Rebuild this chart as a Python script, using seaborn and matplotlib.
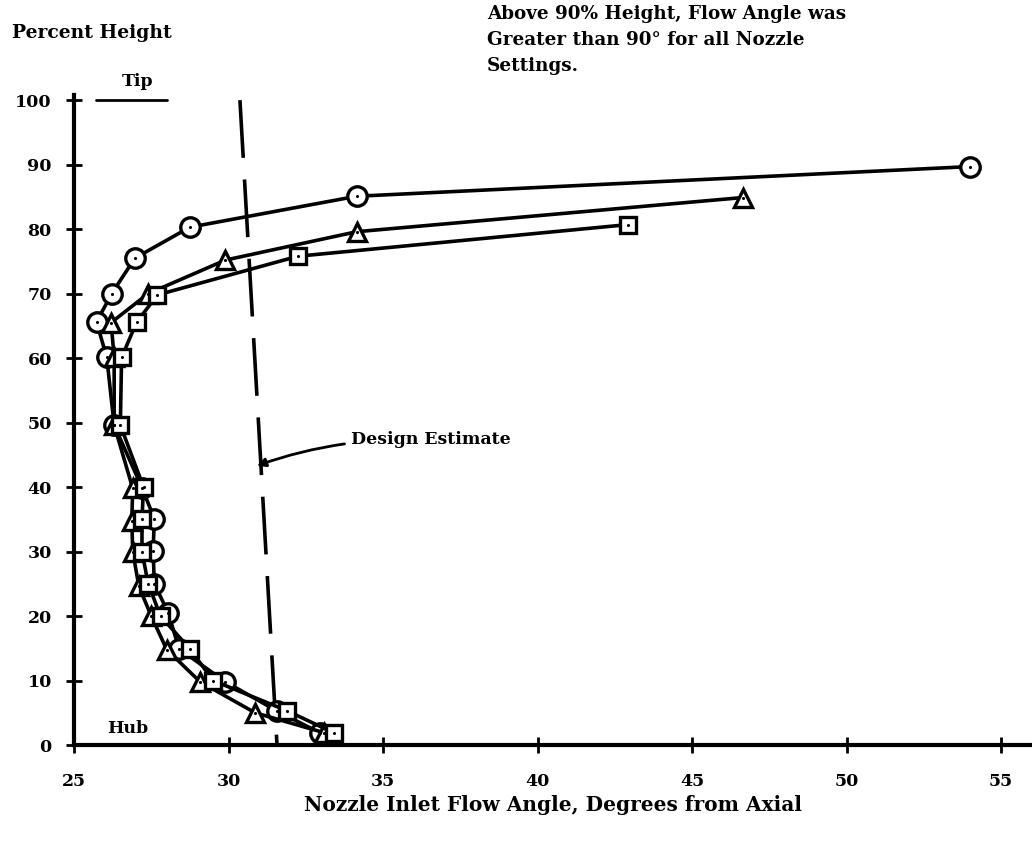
import numpy as np
import pandas as pd
import matplotlib
matplotlib.use("Agg")
import matplotlib.pyplot as plt
import seaborn as sns

# Values (angle in degrees, height in percent)
circle_angle = [54.0, 34.15, 28.75, 26.97, 26.22, 25.73, 26.06, 26.3, 27.2, 27.6, 27.56, 27.6, 28.05, 28.4, 29.9, 31.56, 32.95]
circle_height = [89.7, 85.1, 80.3, 75.5, 70.0, 65.6, 60.1, 49.6, 39.9, 35.1, 30.1, 25.0, 20.5, 14.9, 9.8, 5.3, 1.9]

tri_angle = [46.65, 34.15, 29.9, 27.4, 26.2, 26.3, 26.3, 26.9, 26.87, 26.9, 27.1, 27.5, 28.0, 29.08, 30.86, 33.1]
tri_height = [84.9, 79.6, 75.2, 70.0, 65.5, 60.1, 49.6, 39.8, 34.8, 30.0, 24.6, 20.0, 14.8, 9.8, 5.0, 1.9]

sq_angle = [42.93, 32.25, 27.7, 27.03, 26.54, 26.5, 27.25, 27.2, 27.2, 27.4, 27.8, 28.75, 29.5, 31.9, 33.4]
sq_height = [80.7, 75.8, 69.8, 65.6, 60.1, 49.6, 40.0, 35.0, 30.0, 25.0, 20.0, 14.9, 10.0, 5.3, 1.9]

design_angle = [30.37, 31.57]
design_height = [100.0, 0.0]

x_ticks = [25, 30, 35, 40, 45, 50, 55]
y_ticks = [0, 10, 20, 30, 40, 50, 60, 70, 80, 90, 100]

sns.set_theme(style="white")
plt.rcParams['font.family'] = ['DejaVu Serif']
plt.rcParams['font.weight'] = 'bold'
plt.rcParams['text.color'] = 'black'
plt.rcParams['axes.labelcolor'] = 'black'
plt.rcParams['xtick.color'] = 'black'
plt.rcParams['ytick.color'] = 'black'

fig = plt.figure(figsize=(10.32, 8.41), dpi=100)
ax = fig.add_axes([74 / 1032, 1 - 745 / 841, 1 - 74 / 1032, (745 - 95) / 841])

series = [
    (circle_angle, circle_height, 'o', 14),
    (tri_angle, tri_height, '^', 13),
    (sq_angle, sq_height, 's', 11),
]
for xs, ys, mk, ms in series:
    df = pd.DataFrame({'angle': xs, 'height': ys})
    sns.lineplot(data=df, x='angle', y='height', sort=False, estimator=None,
                 errorbar=None, ax=ax, color='black',
                 linewidth=2.6, marker=mk, markersize=ms, markerfacecolor='white',
                 markeredgecolor='black', markeredgewidth=2.4, zorder=3)
    sns.scatterplot(data=df, x='angle', y='height', ax=ax, color='black', s=5,
                    linewidth=0, zorder=4)

# design estimate line
ax.plot(design_angle, design_height, color='black', linewidth=2.6,
        dashes=(16, 6), zorder=2)

ax.set_xlim(25, 25 + (1032 - 74) / 30.9)
ax.set_ylim(0, 100.8)
ax.set_xticks(x_ticks)
ax.set_yticks(y_ticks)
ax.set_xticklabels([str(t) for t in x_ticks], fontsize=12.5, fontweight='bold')
ax.set_yticklabels([str(t) for t in y_ticks], fontsize=12.5, fontweight='bold')
ax.tick_params(axis='both', direction='inout', length=12, width=2, color='black',
               left=True, bottom=True)
ax.tick_params(axis='x', pad=14)
ax.tick_params(axis='y', pad=10)
for side in ['top', 'right']:
    ax.spines[side].set_visible(False)
for side in ['left', 'bottom']:
    ax.spines[side].set_linewidth(3)
    ax.spines[side].set_color('black')
ax.set_xlabel('Nozzle Inlet Flow Angle, Degrees from Axial', fontsize=14.5,
              fontweight='bold', labelpad=4)
ax.set_ylabel('')

# tip / hub marks
ax.plot([25.7, 28.0], [100, 100], color='black', linewidth=2, clip_on=False)
ax.text(27.05, 101.5, 'Tip', ha='center', va='bottom', fontsize=12.5, fontweight='bold')
ax.text(26.75, 2.6, 'Hub', ha='center', va='center', fontsize=12.5)

ax.annotate('Design Estimate', xy=(30.92, 43.3), xytext=(33.95, 47.3),
            fontsize=12.5, va='center', ha='left',
            arrowprops=dict(arrowstyle='-|>', color='black', lw=2,
                            connectionstyle='arc3,rad=0.1',
                            shrinkA=2, shrinkB=0))

fig.text(12 / 1032, 1 - 33 / 841, 'Percent Height', fontsize=13.5, fontweight='bold',
         va='center', ha='left')
fig.text(487 / 1032, 1 - 40 / 841,
         'Above 90% Height, Flow Angle was\nGreater than 90\u00b0 for all Nozzle\nSettings.',
         fontsize=13.2, fontweight='bold', va='center', ha='left', linespacing=1.6)

fig.savefig('out.png', dpi=100, facecolor='white')
